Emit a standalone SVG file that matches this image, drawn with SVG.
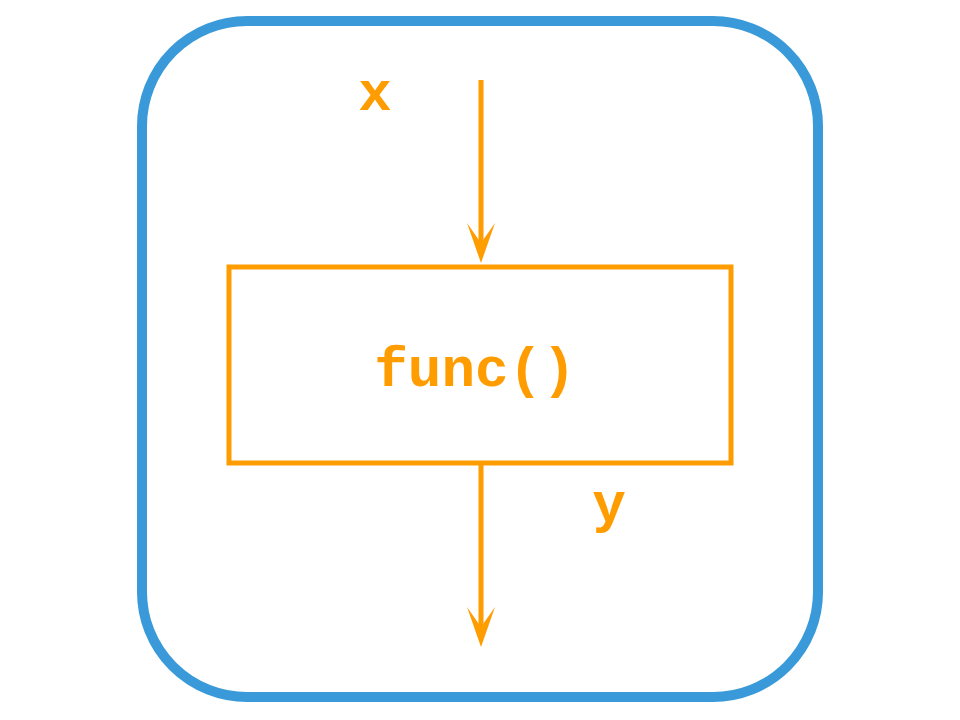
<svg xmlns="http://www.w3.org/2000/svg" width="960" height="720" viewBox="0 0 960 720">
<style>
.frame{fill:none;stroke:#3a9ad9;stroke-width:10}
.box{fill:none;stroke:#ff9c00;stroke-width:5}
.edge{fill:none;stroke:#ff9c00;stroke-width:5}
.lbl{font-family:"Liberation Mono","Courier New",monospace;font-weight:bold;font-size:56px;fill:#ff9c00;text-anchor:middle}
</style>
<defs>
<marker id="arr" viewBox="0 0 40 28" markerWidth="40" markerHeight="28" markerUnits="userSpaceOnUse" refX="30" refY="14" orient="auto">
<path d="M0,0 L40,14 L0,28 L20,14 z" fill="#ff9c00"/>
</marker>
</defs>
<rect class="frame" x="142" y="21" width="676" height="676" rx="105" ry="105"/>
<g id="connectors">
<line class="edge" x1="481" y1="80" x2="481" y2="253" marker-end="url(#arr)"/>
<line class="edge" x1="481" y1="465" x2="481" y2="637" marker-end="url(#arr)"/>
<text class="lbl" x="375" y="110">x</text>
<text class="lbl" x="609" y="521">y</text>
</g>
<g id="func">
<rect class="box" x="229" y="267" width="502" height="196"/>
<text class="lbl" x="475" y="386">func()</text>
</g>
</svg>
